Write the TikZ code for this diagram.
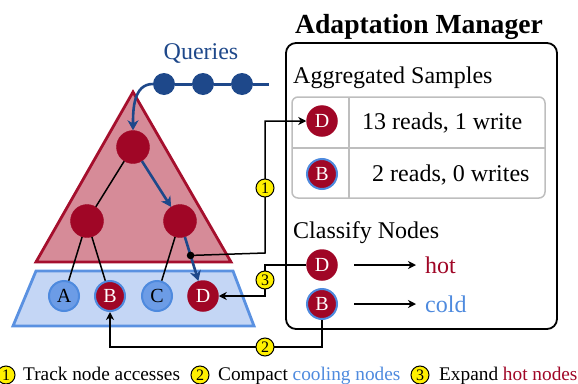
\documentclass[tikz,border=0pt]{standalone}
\usepackage{fontspec}
\setmainfont{Liberation Serif}
\usetikzlibrary{arrows.meta,calc}

\definecolor{hotred}{RGB}{160,6,38}
\definecolor{triline}{RGB}{165,15,45}
\definecolor{trifill}{RGB}{214,139,152}
\definecolor{coldfill}{RGB}{108,156,230}
\definecolor{coldline}{RGB}{78,138,222}
\definecolor{trapfill}{RGB}{196,214,245}
\definecolor{trapline}{RGB}{90,145,225}
\definecolor{qblue}{RGB}{30,72,138}
\definecolor{numyellow}{RGB}{255,240,0}
\definecolor{tablegray}{RGB}{190,190,190}

\newcommand{\fsz}[1]{\fontsize{#1}{#1}\selectfont}

\tikzset{
  treenode/.style={circle, fill=hotred, draw=hotred, minimum size=33pt, inner sep=0pt},
  hotleaf/.style={circle, fill=hotred, draw=hotred, line width=1.5pt, minimum size=30pt,
    inner sep=0pt, text=white, font=\fsz{20}},
  coldleaf/.style={circle, fill=coldfill, draw=coldline, line width=2pt, minimum size=30pt,
    inner sep=0pt, text=black, font=\fsz{20}},
  coolleaf/.style={circle, fill=hotred, draw=coldline, line width=2pt, minimum size=30pt,
    inner sep=0pt, text=white, font=\fsz{20}},
  qdot/.style={circle, fill=qblue, minimum size=22pt, inner sep=0pt},
  edge/.style={black, line width=1.5pt},
  qarrow/.style={qblue, line width=2.6pt, -{Stealth[length=10pt,width=11pt,inset=3pt]}},
  conn/.style={black, line width=1.5pt, -{Stealth[length=8pt,width=8pt,inset=2.5pt]}},
  num/.style={circle, fill=numyellow, draw=black, line width=1pt, minimum size=18pt,
    inner sep=0pt, font=\fsz{16}},
  txt/.style={inner sep=0pt, font=\fsz{24}},
  legend/.style={anchor=base west, inner sep=0pt, font=\fsz{19.3}},
}

\begin{document}
\begin{tikzpicture}[x=1pt, y=-1pt]
\useasboundingbox (0,0) rectangle (578,383);

% index structure: inner levels and leaf level
\draw[triline, fill=trifill, line width=2.8pt, line join=miter]
  (36,262) -- (133,92) -- (231,262) -- cycle;
\draw[trapline, fill=trapfill, line width=2.8pt]
  (36,271) -- (233,271) -- (254,326) -- (13,326) -- cycle;

% tree nodes
\node[treenode] (root) at (133,147) {};
\node[treenode] (lc) at (87,221) {};
\node[treenode] (rc) at (180,221) {};
\node[coldleaf] (la) at (64,296) {A};
\node[coolleaf] (lb) at (110,296) {B};
\node[coldleaf] (lcc) at (157,296) {C};
\node[hotleaf] (ld) at (203,296) {D};

\draw[edge] (root) -- (lc);
\draw[edge] (lc) -- (la);
\draw[edge] (lc) -- (lb);
\draw[edge] (rc) -- (lcc);
\draw[qarrow] (root) -- (rc);
\draw[qarrow] (rc) -- (ld) coordinate[pos=0.42] (tap);

% incoming queries
\node[font=\fsz{24}, text=qblue, inner sep=0pt] (qlabel) at (201,53) {Queries};
\node[qdot] (q1) at (164,84) {};
\node[qdot] (q2) at (203,84) {};
\node[qdot] (q3) at (242,84) {};
\coordinate (qend) at (269,84);
\draw[qblue, line width=3pt] (q1) -- (q2) -- (q3) -- (qend);
\draw[qarrow] (q1.west) to[out=180, in=90] (root.north);

% adaptation manager
\node[font=\bfseries\fsz{27.6}, anchor=base, inner sep=0pt] (title) at (419,33) {Adaptation Manager};
\draw[black, line width=1.8pt, rounded corners=10pt] (286,43) rectangle (557,329);

\node[txt, anchor=base west] (agg) at (293,83) {Aggregated Samples};
\draw[tablegray, line width=1.5pt, rounded corners=6pt] (292,97) rectangle (545,198);
\draw[tablegray, line width=1.5pt] (349,97) -- (349,198);
\draw[tablegray, line width=1.5pt] (292,148) -- (545,148);
\node[hotleaf] (tD) at (322,121) {D};
\node[coolleaf] (tB) at (322,174) {B};
\node[txt, anchor=base west] (r1) at (362,129) {13 reads, 1 write};
\node[txt, anchor=base west] (r2) at (372,181) {2 reads, 0 writes};

\node[txt, anchor=base west] (cls) at (293,238) {Classify Nodes};
\node[hotleaf] (cD) at (322,265) {D};
\node[coolleaf] (cB) at (322,304) {B};
\coordinate (hs) at (354,265);
\coordinate (he) at (416,265);
\coordinate (cs) at (354,304);
\coordinate (ce) at (416,304);
\draw[conn] (hs) -- (he);
\draw[conn] (cs) -- (ce);
\node[txt, anchor=base west, text=hotred] (hot) at (425,273) {hot};
\node[txt, anchor=base west, text=coldline] (cold) at (425,312) {cold};

% step 1: track accesses
\coordinate (k1a) at (265,253);
\coordinate (k1b) at (265,121);
\draw[conn] (tap) -- (k1a) -- (k1b) -- (tD);
\fill[black] (tap) circle (3.8pt);
\node[num] (n1) at (265,188) {1};

% step 3: expand hot nodes
\coordinate (k3) at (265,265);
\draw[conn] (cD) -- (k3) |- (ld);
\node[num] (n3) at (265,280) {3};

% step 2: compact cooling nodes
\coordinate (k2) at (322,347);
\draw[conn] (cB) -- (k2) -| (lb);
\node[num] (n2) at (265,347) {2};

% legend
\node[num] (g1) at (6,375) {1};
\node[legend] (g1t) at (23,380) {Track node accesses};
\node[num] (g2) at (200,375) {2};
\node[legend] (g2t) at (218,380) {Compact \textcolor{coldline}{cooling nodes}};
\node[num] (g3) at (420,375) {3};
\node[legend] (g3t) at (439,380) {Expand \textcolor{hotred}{hot nodes}};
\end{tikzpicture}
\end{document}
